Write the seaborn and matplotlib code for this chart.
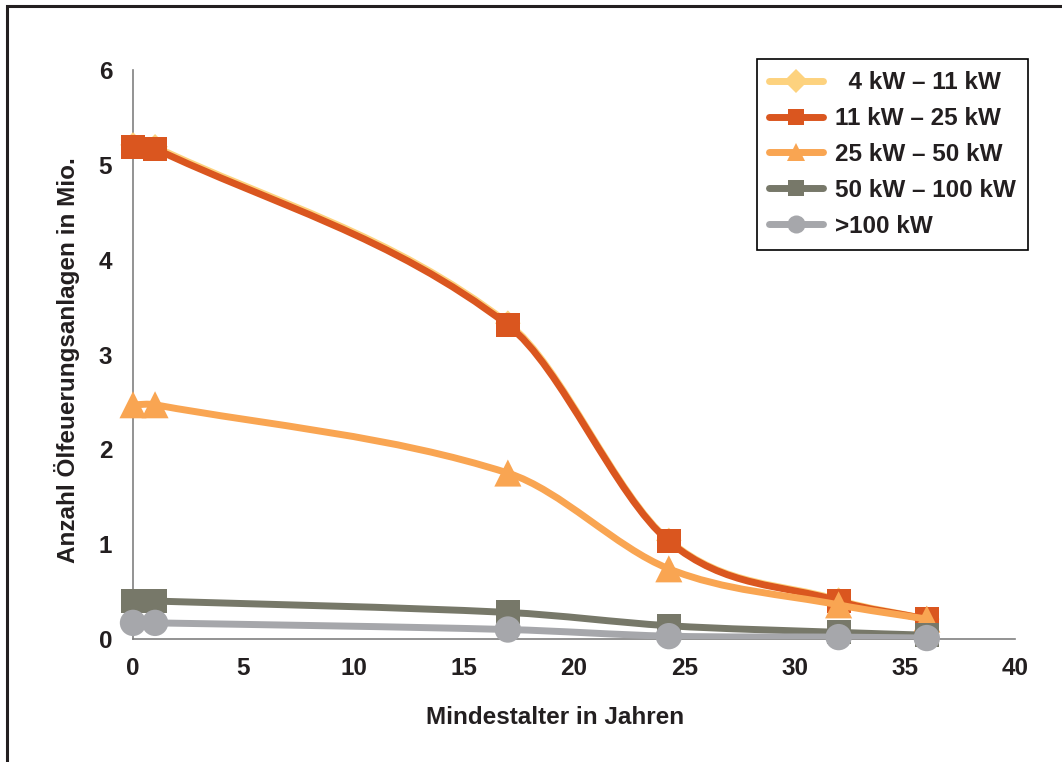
import numpy as np
import pandas as pd
import matplotlib
matplotlib.use("Agg")
import matplotlib.pyplot as plt
import seaborn as sns
from matplotlib.path import Path
from matplotlib.patches import PathPatch, Rectangle
from matplotlib.lines import Line2D

# ---- data ----
alter = [0, 1, 17, 24.3, 32, 36]
s_4_11 = [5.21, 5.19, 3.33, 1.04, 0.41, 0.21]
s_11_25 = [5.19, 5.17, 3.31, 1.03, 0.40, 0.21]
s_25_50 = [2.47, 2.47, 1.75, 0.74, 0.36, 0.21]
s_50_100 = [0.40, 0.40, 0.28, 0.14, 0.07, 0.04]
s_100 = [0.17, 0.17, 0.10, 0.03, 0.02, 0.01]
labels = ["  4 kW \u2013 11 kW", "11 kW \u2013 25 kW", "25 kW \u2013 50 kW",
          "50 kW \u2013 100 kW", ">100 kW"]
x_ticks = [0, 5, 10, 15, 20, 25, 30, 35, 40]
y_ticks = [0, 1, 2, 3, 4, 5, 6]

series = [s_4_11, s_11_25, s_25_50, s_50_100, s_100]
colors = ["#FDD27E", "#DA561F", "#F9A552", "#777869", "#A6A7AB"]
markers = ["D", "s", "^", "s", "o"]
msizes = [170, 300, 380, 300, 360]
leg_ms = [12, 12, 13, 12, 13]

sns.set_style("white")
plt.rcParams["font.family"] = ["Liberation Sans", "DejaVu Sans"]
plt.rcParams["font.weight"] = "bold"
txt = "#231f20"
FS = 17.5

fig = plt.figure(figsize=(10.62, 7.62), dpi=100)
ax = fig.add_axes([133 / 1062, 1 - 639 / 762, (1015 - 133) / 1062, (639 - 70) / 762])


def smooth_path(x, y):
    x = np.asarray(x, float)
    y = np.asarray(y, float)
    n = len(x)
    m = np.zeros(n)
    for i in range(n):
        if i == 0:
            m[i] = (y[1] - y[0]) / (x[1] - x[0])
        elif i == n - 1:
            m[i] = (y[-1] - y[-2]) / (x[-1] - x[-2])
        else:
            m[i] = (y[i + 1] - y[i - 1]) / (x[i + 1] - x[i - 1])
    verts = [(x[0], y[0])]
    codes = [Path.MOVETO]
    for i in range(n - 1):
        dx = x[i + 1] - x[i]
        verts += [(x[i] + dx / 3, y[i] + m[i] * dx / 3),
                  (x[i + 1] - dx / 3, y[i + 1] - m[i + 1] * dx / 3),
                  (x[i + 1], y[i + 1])]
        codes += [Path.CURVE4] * 3
    return Path(verts, codes)


for k, (vals, c, mk, ms) in enumerate(zip(series, colors, markers, msizes)):
    z = 3 + 2 * k
    patch = PathPatch(smooth_path(alter, vals), fill=False, edgecolor=c, lw=5,
                      capstyle="round", joinstyle="round", zorder=z)
    ax.add_patch(patch)
    df = pd.DataFrame({"x": alter, "y": vals})
    sns.scatterplot(data=df, x="x", y="y", marker=mk, s=ms, color=c,
                    edgecolor="none", linewidth=0, ax=ax, zorder=z + 1,
                    legend=False, clip_on=False)

ax.set_xlim(0, 40)
ax.set_ylim(0, 6)
ax.set_xticks(x_ticks)
ax.set_yticks(y_ticks)
ax.set_xticklabels([str(v) for v in x_ticks])
ax.set_yticklabels([str(v) for v in y_ticks])
for s in ["top", "right"]:
    ax.spines[s].set_visible(False)
for s in ["left", "bottom"]:
    ax.spines[s].set_color("#808080")
    ax.spines[s].set_linewidth(1.2)
ax.tick_params(axis="both", direction="out", length=6, width=1.2, color="#808080",
               labelsize=FS, labelcolor=txt)
ax.tick_params(axis="x", pad=7)
ax.tick_params(axis="y", pad=9)
for lab in ax.get_xticklabels() + ax.get_yticklabels():
    lab.set_fontweight("bold")

ax.set_xlabel("Mindestalter in Jahren", fontsize=FS, fontweight="bold", color=txt)
ax.xaxis.set_label_coords(0.478, -0.118)
ax.set_ylabel("Anzahl \u00d6lfeuerungsanlagen in Mio.", fontsize=FS, fontweight="bold",
              color=txt)
ax.yaxis.set_label_coords(-0.060, 0.49)

handles = [Line2D([], [], color=c, lw=5, marker=mk, markersize=ms, solid_capstyle="round",
                  markeredgewidth=0)
           for c, mk, ms in zip(colors, markers, leg_ms)]
leg = ax.legend(handles, labels, loc="upper right",
                bbox_to_anchor=(1028 / 1062, 1 - 59 / 762), bbox_transform=fig.transFigure,
                borderaxespad=0, frameon=True, fancybox=False, framealpha=1, edgecolor="black",
                prop={"size": FS, "weight": "bold"}, handlelength=2.2,
                labelspacing=0.53, borderpad=0.5, handletextpad=0.5)
leg.get_frame().set_linewidth(1.2)
for t in leg.get_texts():
    t.set_color(txt)
leg.set_zorder(20)

fig.add_artist(Rectangle((7 / 1062, -0.1), 2, 1 - 6 / 762 + 0.1, transform=fig.transFigure,
                         fill=False, edgecolor="#231f20", lw=2.2))

fig.savefig("out.png", dpi=100)
